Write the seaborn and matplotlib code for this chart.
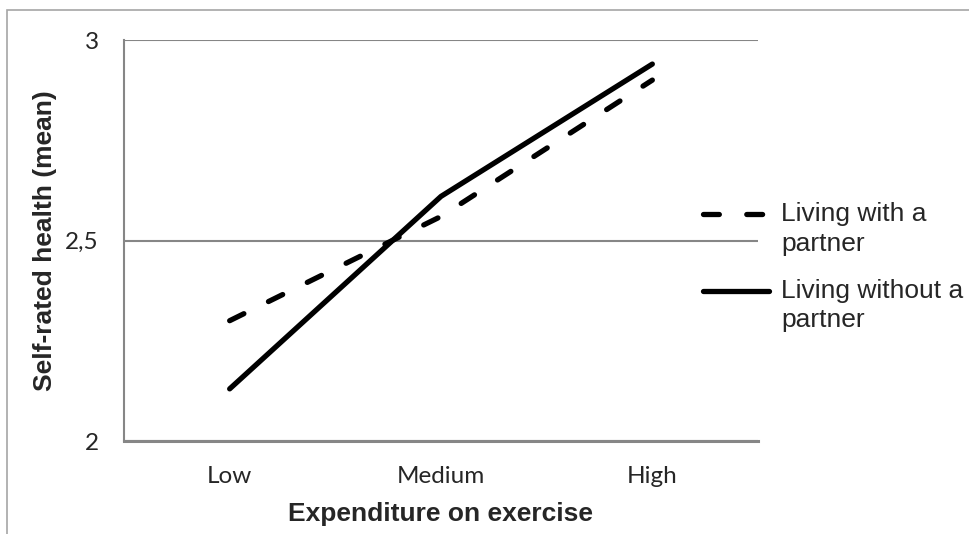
import matplotlib
matplotlib.use("Agg")
import matplotlib.pyplot as plt
import numpy as np
import pandas as pd
import seaborn as sns
from matplotlib.legend_handler import HandlerLine2D
from matplotlib.patches import Rectangle

# data
levels = ["Low", "Medium", "High"]
with_partner = [2.30, 2.56, 2.90]
without_partner = [2.13, 2.61, 2.94]
groups = ["Living with a partner", "Living without a partner"]
legend_labels = ["Living with a\npartner", "Living without a\npartner"]
y_ticks = [2, 2.5, 3]
y_tick_labels = ["2", "2,5", "3"]

df = pd.DataFrame({
    "level": levels * 2,
    "health": with_partner + without_partner,
    "group": [groups[0]] * 3 + [groups[1]] * 3,
})

sns.set_style("white")
plt.rcParams["font.family"] = ["Liberation Sans", "DejaVu Sans"]

grey = "#868686"

fig = plt.figure(figsize=(9.7, 5.34), dpi=100)
ax = fig.add_axes([124 / 970, 1 - 441 / 534, (758 - 124) / 970, (441 - 40) / 534])

sns.lineplot(data=df, x="level", y="health", style="group", color="black",
             dashes={groups[0]: (3, 5.2), groups[1]: ""}, linewidth=3.8,
             dash_capstyle="round", solid_capstyle="round", legend=False, ax=ax)

ax.set_xlim(-0.5, 2.5)
ax.set_ylim(2, 3)
ax.set_yticks(y_ticks)
ax.set_yticklabels(y_tick_labels, family="Lato", fontsize=17.5)
ax.set_xticks(range(len(levels)))
ax.set_xticklabels(levels, family="Lato", fontsize=17.5)
ax.set_xticks([-0.5, 0.5, 1.5, 2.5], minor=True)
ax.tick_params(axis="x", which="major", length=0, pad=18)
ax.tick_params(axis="x", which="minor", length=4.5, width=1.5, color=grey, direction="out")
ax.tick_params(axis="y", length=6, width=1.5, color=grey, pad=12, direction="out")
ax.yaxis.grid(True, color=grey, linewidth=1.5)
ax.xaxis.grid(False)
for s in ["top", "right"]:
    ax.spines[s].set_visible(False)
ax.spines["left"].set_color(grey)
ax.spines["left"].set_linewidth(1.5)
ax.spines["bottom"].set_color(grey)
ax.spines["bottom"].set_linewidth(2.2)
ax.set_axisbelow(True)

ax.set_xlabel("Expenditure on exercise", fontsize=19, fontweight="bold", labelpad=11)
ax.set_ylabel("Self-rated health (mean)", fontsize=19, fontweight="bold", labelpad=6)


class TopLineHandler(HandlerLine2D):
    # put the legend line level with the first line of a two-line label
    def create_artists(self, legend, orig_handle, xdescent, ydescent, width, height, fontsize, trans):
        artists = super().create_artists(legend, orig_handle, xdescent, ydescent,
                                         width, height, fontsize, trans)
        shift = 0.57 * fontsize
        for a in artists:
            a.set_ydata(np.asarray(a.get_ydata()) + shift)
        return artists


handles = ax.lines[:2]
leg = ax.legend(handles, legend_labels, loc="upper left",
                bbox_to_anchor=(703 / 970, 1 - 202 / 534), bbox_transform=fig.transFigure,
                frameon=False, fontsize=19, handlelength=2.5, handletextpad=0.45,
                labelspacing=0.87, borderpad=0, borderaxespad=0,
                handler_map={h: TopLineHandler() for h in handles})
for t in leg.get_texts():
    t.set_linespacing(1.3)

# thin grey frame around the chart area
fig.patches.append(Rectangle((7 / 970, -0.1), 1.2, 1.1 - 10 / 534, transform=fig.transFigure,
                             fill=False, edgecolor="#a6a6a6", linewidth=1.2, zorder=0))

fig.savefig("out.png", dpi=100)
